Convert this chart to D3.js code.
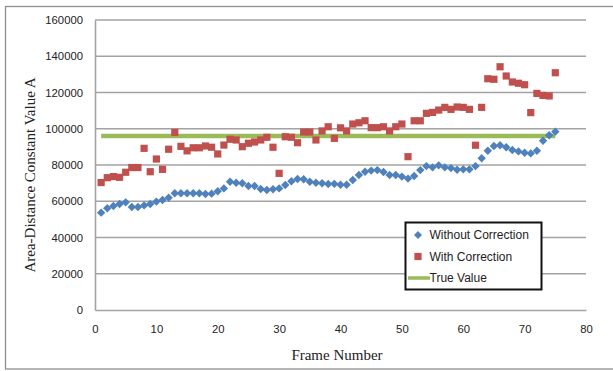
<!DOCTYPE html>
<html>
<head>
<meta charset="utf-8">
<script src="https://cdn.jsdelivr.net/npm/d3@7"></script>
<style>
  html, body { margin: 0; padding: 0; background: #ffffff; }
  svg { display: block; }
</style>
</head>
<body>
<svg id="chart" width="613" height="371"></svg>
<script>
// Frame numbers (x) and the two measured series of the area-distance constant A
const frames = d3.range(1, 76);
const withoutCorrection = [
  53700, 56100, 57400, 58500, 59400, 56800, 56800, 57700, 58500, 59800,
  60700, 62000, 64400, 64400, 64400, 64400, 64400, 64000, 64200, 65500,
  67100, 70800, 70200, 69900, 68400, 68400, 66800, 66200, 66600, 67100,
  69000, 71000, 72300, 72100, 70800, 70200, 69900, 69500, 69600, 69100,
  69100, 71700, 74500, 76300, 76900, 77200, 76100, 74500, 74500, 73600,
  72500, 73900, 77200, 79400, 78700, 79800, 78700, 78300, 77400, 77600,
  77600, 79400, 83700, 87900, 90500, 90900, 89800, 88300, 87500, 86800,
  86400, 87900, 93400, 96400, 98400
];
const withCorrection = [
  70300, 73000, 73600, 73200, 76000, 78600, 78600, 89200, 76300, 83300,
  77600, 88700, 98000, 90300, 87800, 89500, 89500, 90500, 89800, 86100,
  91000, 94200, 93800, 90100, 92000, 92700, 93800, 95300, 89800, 75400,
  95600, 95300, 92300, 98200, 98200, 93800, 98800, 101100, 94700, 100500,
  98800, 102600, 103300, 104400, 100600, 100600, 101100, 98800, 101100, 102600,
  84600, 104400, 104400, 108500, 109000, 110300, 111800, 110700, 112000, 111800,
  110700, 90900, 111800, 127600, 127300, 134200, 129100, 125800, 125100, 124300,
  108900, 119500, 118400, 118100, 130900
];
const trueValue = 96000;
const xTicks = [0, 10, 20, 30, 40, 50, 60, 70, 80];
const yTicks = [0, 20000, 40000, 60000, 80000, 100000, 120000, 140000, 160000];
const seriesNames = ["Without Correction", "With Correction", "True Value"];
const xTitle = "Frame Number";
const yTitle = "Area-Distance Constant Value A";

const colors = { blue: "#4f81bd", red: "#c0504d", green: "#9bbb59" };
const gridColor = "#a3a3a3";
const tickFont = "'Liberation Sans', Arial, sans-serif";
const titleFont = "'Liberation Serif', 'Times New Roman', serif";

const svg = d3.select("#chart");
const plot = { left: 95, right: 586, top: 20, bottom: 310 };

const x = d3.scaleLinear().domain([0, 80]).range([plot.left, plot.right]);
const y = d3.scaleLinear().domain([0, 160000]).range([plot.bottom, plot.top]);

// Chart frame
svg.append("rect")
  .attr("x", 5.5).attr("y", 6.5)
  .attr("width", 640).attr("height", 362.5)
  .attr("fill", "#ffffff")
  .attr("stroke", "#8e8e8e").attr("stroke-width", 1.3);

// Horizontal gridlines
svg.append("g").selectAll("line")
  .data(yTicks.filter(d => d > 0))
  .join("line")
  .attr("x1", plot.left).attr("x2", plot.right)
  .attr("y1", d => y(d)).attr("y2", d => y(d))
  .attr("stroke", gridColor).attr("stroke-width", 1.6);

// Y axis
const yAxis = svg.append("g")
  .attr("transform", `translate(${plot.left},0)`)
  .call(d3.axisLeft(y).tickValues(yTicks).tickFormat(d3.format("d")).tickSize(0).tickPadding(12));
yAxis.select(".domain").attr("stroke", gridColor).attr("stroke-width", 1.6);
yAxis.selectAll("text")
  .attr("font-family", tickFont).attr("font-size", 11.3).attr("fill", "#222");

// X axis
const xAxis = svg.append("g")
  .attr("transform", `translate(0,${plot.bottom})`)
  .call(d3.axisBottom(x).tickValues(xTicks).tickFormat(d3.format("d")).tickSize(0).tickPadding(15));
xAxis.select(".domain").attr("stroke", gridColor).attr("stroke-width", 1.6);
xAxis.selectAll("text")
  .attr("font-family", tickFont).attr("font-size", 11.3).attr("fill", "#222");

// Axis titles
svg.append("text")
  .attr("x", 337).attr("y", 360)
  .attr("text-anchor", "middle")
  .attr("font-family", titleFont).attr("font-size", 15).attr("fill", "#222")
  .text(xTitle);
svg.append("text")
  .attr("transform", "translate(35,175) rotate(-90)")
  .attr("text-anchor", "middle")
  .attr("font-family", titleFont).attr("font-size", 15).attr("fill", "#222")
  .text(yTitle);

// True value reference line
svg.append("line")
  .attr("x1", x(frames[0])).attr("x2", x(frames[frames.length - 1]))
  .attr("y1", y(trueValue)).attr("y2", y(trueValue))
  .attr("stroke", colors.green).attr("stroke-width", 4.5);

// Marker shapes
const diamond = r => `M0,${-r}L${r},0L0,${r}L${-r},0Z`;
const square = s => `M${-s},${-s}H${s}V${s}H${-s}Z`;

// With correction (red squares)
svg.append("g").selectAll("path")
  .data(frames.map((f, i) => [f, withCorrection[i]]))
  .join("path")
  .attr("transform", d => `translate(${x(d[0])},${y(d[1])})`)
  .attr("d", square(3.6))
  .attr("fill", colors.red);

// Without correction (blue diamonds)
svg.append("g").selectAll("path")
  .data(frames.map((f, i) => [f, withoutCorrection[i]]))
  .join("path")
  .attr("transform", d => `translate(${x(d[0])},${y(d[1])})`)
  .attr("d", diamond(4.2))
  .attr("fill", colors.blue);

// Legend
const legend = svg.append("g");
legend.append("rect")
  .attr("x", 405.5).attr("y", 222.5)
  .attr("width", 136).attr("height", 67)
  .attr("fill", "#ffffff")
  .attr("stroke", "#111").attr("stroke-width", 2);

const rows = [235, 256.5, 278];
legend.append("path")
  .attr("transform", `translate(418,${rows[0]})`)
  .attr("d", diamond(4)).attr("fill", colors.blue);
legend.append("path")
  .attr("transform", `translate(418,${rows[1]})`)
  .attr("d", square(3.6)).attr("fill", colors.red);
legend.append("line")
  .attr("x1", 408).attr("x2", 430)
  .attr("y1", rows[2]).attr("y2", rows[2])
  .attr("stroke", colors.green).attr("stroke-width", 3.5);

legend.selectAll("text.lbl")
  .data(seriesNames)
  .join("text")
  .attr("class", "lbl")
  .attr("x", 429.5)
  .attr("y", (d, i) => rows[i])
  .attr("dy", "0.36em")
  .attr("font-family", tickFont).attr("font-size", 12).attr("fill", "#222")
  .text(d => d);
</script>
</body>
</html>
